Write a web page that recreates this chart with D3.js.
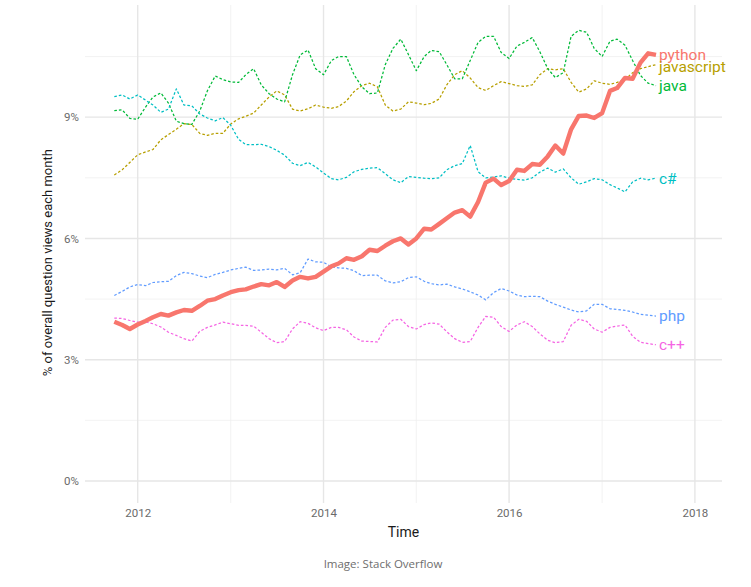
<!DOCTYPE html>
<html>
<head>
<meta charset="utf-8">
<script src="https://cdn.jsdelivr.net/npm/d3@7"></script>
<style>
  body { margin: 0; background: #fff; }
  svg { display: block; font-family: Roboto, "Noto Sans", sans-serif; }
</style>
</head>
<body>
<div id="chart"></div>
<script>
// monthly readings, Oct 2011 .. Aug 2017 (% of question views)
var firstMonth = new Date(2011, 9, 1);
var lastMonth = new Date(2017, 7, 1);

var python = [3.94,3.86,3.76,3.87,3.96,4.05,4.13,4.09,4.17,4.23,4.21,4.33,4.46,4.50,4.59,4.67,4.72,4.74,4.81,4.87,4.84,4.92,4.80,4.96,5.05,5.01,5.05,5.18,5.31,5.38,5.51,5.47,5.56,5.72,5.69,5.82,5.93,6.00,5.85,6.00,6.24,6.22,6.36,6.50,6.64,6.70,6.54,6.90,7.38,7.48,7.32,7.42,7.70,7.67,7.84,7.82,8.03,8.30,8.10,8.70,9.03,9.04,8.98,9.10,9.65,9.72,9.97,9.95,10.35,10.58,10.54];
var javascript = [7.57,7.70,7.88,8.07,8.14,8.20,8.44,8.57,8.70,8.84,8.82,8.60,8.55,8.60,8.60,8.83,8.96,9.02,9.10,9.30,9.50,9.65,9.55,9.20,9.15,9.21,9.30,9.25,9.22,9.26,9.40,9.63,9.78,9.84,9.75,9.30,9.15,9.20,9.38,9.35,9.31,9.34,9.45,9.80,10.05,10.15,9.97,9.73,9.66,9.78,9.88,9.83,9.78,9.76,9.80,10.05,10.20,10.17,10.20,9.86,9.62,9.70,9.90,9.84,9.81,9.86,9.93,10.10,10.20,10.25,10.30];
var java = [9.16,9.18,8.97,8.95,9.25,9.50,9.60,9.35,8.90,8.84,8.82,9.15,9.65,10.02,9.93,9.87,9.86,10.05,10.20,9.80,9.58,9.45,9.38,10.05,10.54,10.66,10.20,10.05,10.40,10.50,10.50,10.05,9.75,9.58,9.60,10.30,10.70,10.93,10.55,10.15,10.50,10.65,10.62,10.30,9.95,9.95,10.40,10.85,11.00,11.00,10.60,10.45,10.76,10.85,10.97,10.62,10.20,9.98,10.10,11.00,11.15,11.10,10.70,10.50,10.88,10.93,10.78,10.40,10.03,9.84,9.78];
var csharp = [9.51,9.55,9.45,9.55,9.42,9.30,9.12,9.20,9.70,9.30,9.28,9.08,8.98,8.91,8.99,8.80,8.45,8.32,8.32,8.33,8.27,8.18,8.06,7.86,7.80,7.88,7.77,7.62,7.48,7.45,7.51,7.65,7.71,7.74,7.75,7.60,7.45,7.38,7.53,7.51,7.49,7.48,7.50,7.70,7.80,7.85,8.30,7.65,7.50,7.52,7.55,7.49,7.46,7.44,7.50,7.64,7.74,7.64,7.72,7.50,7.34,7.40,7.48,7.45,7.33,7.25,7.15,7.40,7.49,7.45,7.49];
var php = [4.59,4.69,4.80,4.86,4.83,4.91,4.93,4.94,5.08,5.16,5.13,5.07,5.03,5.11,5.16,5.22,5.26,5.29,5.21,5.22,5.24,5.22,5.26,5.10,5.15,5.49,5.42,5.41,5.30,5.27,5.26,5.20,5.08,5.09,5.09,4.95,4.90,4.93,5.03,5.05,4.94,4.88,4.85,4.87,4.80,4.75,4.68,4.60,4.48,4.66,4.76,4.70,4.60,4.56,4.57,4.56,4.45,4.37,4.30,4.23,4.18,4.21,4.37,4.37,4.26,4.24,4.22,4.18,4.12,4.10,4.08];
var cpp = [4.03,4.02,3.97,3.93,3.94,3.89,3.81,3.68,3.60,3.52,3.46,3.70,3.80,3.86,3.93,3.89,3.85,3.85,3.83,3.68,3.52,3.42,3.45,3.76,3.94,3.90,3.79,3.72,3.80,3.80,3.74,3.56,3.46,3.45,3.44,3.80,3.98,4.00,3.82,3.76,3.87,3.91,3.88,3.69,3.52,3.43,3.45,3.80,4.07,4.05,3.82,3.70,3.86,3.94,3.82,3.64,3.48,3.42,3.45,3.85,4.00,3.95,3.76,3.68,3.80,3.83,3.86,3.58,3.43,3.40,3.37];

var tags = ["python", "javascript", "java", "c#", "php", "c++"];
var tagValues = [python, javascript, java, csharp, php, cpp];
var tagColors = ["#F8766D", "#B79F00", "#00BA38", "#00BFC4", "#619CFF", "#F564E3"];

var yTicks = [0, 3, 6, 9];
var yMinor = [1.5, 4.5, 7.5, 10.5];
var xTicks = [2012, 2014, 2016, 2018];
var xMinor = [2013, 2015, 2017];

var width = 751;
var height = 587;
var panel = {left: 85, right: 722, top: 5, bottom: 503};

var months = d3.timeMonth.range(firstMonth, d3.timeMonth.offset(lastMonth, 1));

var svg = d3.select("#chart").append("svg")
    .attr("width", width)
    .attr("height", height);

var x = d3.scaleTime()
    .domain([new Date(2012, 0, 1), new Date(2018, 0, 1)])
    .range([137.7, 694.9]);

var y = d3.scaleLinear()
    .domain([-0.545, 11.775])
    .range([panel.bottom, panel.top]);

//grid
var grid = svg.append("g");
grid.selectAll("line.ymin").data(yMinor).enter().append("line")
    .attr("x1", panel.left).attr("x2", panel.right)
    .attr("y1", function(d){ return y(d); }).attr("y2", function(d){ return y(d); })
    .attr("stroke", "#efefef").attr("stroke-width", 0.8);
grid.selectAll("line.xmin").data(xMinor).enter().append("line")
    .attr("y1", panel.top).attr("y2", panel.bottom)
    .attr("x1", function(d){ return x(new Date(d, 0, 1)); })
    .attr("x2", function(d){ return x(new Date(d, 0, 1)); })
    .attr("stroke", "#efefef").attr("stroke-width", 0.8);
grid.selectAll("line.ymaj").data(yTicks).enter().append("line")
    .attr("x1", panel.left).attr("x2", panel.right)
    .attr("y1", function(d){ return y(d); }).attr("y2", function(d){ return y(d); })
    .attr("stroke", "#e6e6e6").attr("stroke-width", 1.4);
grid.selectAll("line.xmaj").data(xTicks).enter().append("line")
    .attr("y1", panel.top).attr("y2", panel.bottom)
    .attr("x1", function(d){ return x(new Date(d, 0, 1)); })
    .attr("x2", function(d){ return x(new Date(d, 0, 1)); })
    .attr("stroke", "#e6e6e6").attr("stroke-width", 1.4);

//axes (text only, like theme_minimal)
var yAxis = svg.append("g")
    .attr("transform", "translate(" + (panel.left - 4) + ",0)")
    .call(d3.axisLeft(y).tickValues(yTicks).tickSize(0).tickPadding(2)
        .tickFormat(function(d){ return d + "%"; }));
var xAxis = svg.append("g")
    .attr("transform", "translate(0," + (panel.bottom + 4) + ")")
    .call(d3.axisBottom(x).tickValues(xTicks.map(function(d){ return new Date(d, 0, 1); }))
        .tickSize(0).tickPadding(2).tickFormat(d3.timeFormat("%Y")));
[yAxis, xAxis].forEach(function(a){
    a.select(".domain").remove();
    a.selectAll("text")
        .attr("fill", "#6a6a6a")
        .style("font-family", "Roboto, sans-serif")
        .style("font-size", "11.5px");
});

//lines
var line = d3.line()
    .x(function(d, i){ return x(months[i]); })
    .y(function(d){ return y(d); });

var order = [1, 2, 3, 4, 5, 0];
order.forEach(function(k){
    var isPy = k === 0;
    svg.append("path")
        .datum(tagValues[k])
        .attr("fill", "none")
        .attr("stroke", tagColors[k])
        .attr("stroke-width", isPy ? 4.4 : 1.25)
        .attr("stroke-dasharray", isPy ? null : "2.6,2")
        .attr("stroke-linejoin", "round")
        .attr("d", line);
});

//end labels
svg.selectAll("text.tag")
    .data(tags)
    .enter().append("text")
    .attr("class", "tag")
    .attr("x", function(d, i){ return x(months[months.length - 1]) + 3; })
    .attr("y", function(d, i){ var v = tagValues[i]; return y(v[v.length - 1]); })
    .attr("dy", function(d){ return d === "javascript" ? "0.5em" : "0.35em"; })
    .attr("fill", function(d, i){ return tagColors[i]; })
    .style("font-size", "15.5px")
    .text(function(d){ return d; });

//titles
svg.append("text")
    .attr("x", (panel.left + panel.right) / 2)
    .attr("y", 537)
    .attr("text-anchor", "middle")
    .attr("fill", "#1a1a1a")
    .style("font-size", "14px")
    .text("Time");

svg.append("text")
    .attr("transform", "translate(52," + y(5.4) + ")rotate(-90)")
    .attr("text-anchor", "middle")
    .attr("fill", "#1a1a1a")
    .style("font-size", "13px")
    .text("% of overall question views each month");

svg.append("text")
    .attr("x", 383)
    .attr("y", 568)
    .attr("text-anchor", "middle")
    .attr("fill", "#6e6e6e")
    .style("font-family", "'Open Sans', sans-serif")
    .style("font-size", "11.5px")
    .text("Image: Stack Overflow");
</script>
</body>
</html>
